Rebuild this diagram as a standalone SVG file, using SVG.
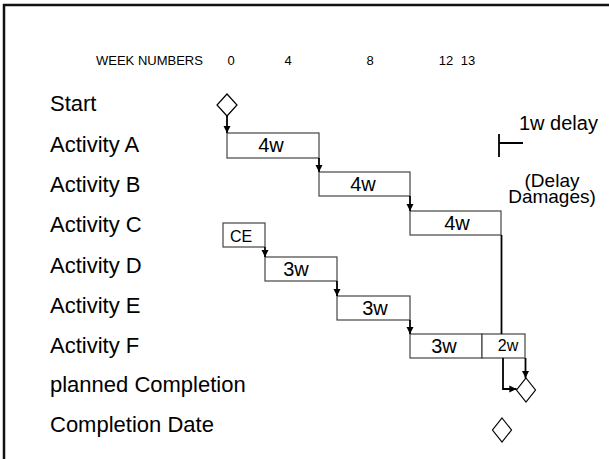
<svg xmlns="http://www.w3.org/2000/svg" width="609" height="459" viewBox="0 0 609 459">
<defs>
<marker id="ah" viewBox="0 0 10 10" refX="10" refY="5" markerWidth="4" markerHeight="4" orient="auto" markerUnits="strokeWidth">
<path d="M0,0 L10,5 L0,10 z" fill="#000"/>
</marker>
<style>
.lbl{font-family:"Liberation Sans",Arial,sans-serif;font-size:22px;fill:#000}
.wk{font-family:"Liberation Sans",Arial,sans-serif;font-size:13px;fill:#000}
.bx{fill:#fff;stroke:#444;stroke-width:1.2}
.bt{font-family:"Liberation Sans",Arial,sans-serif;font-size:20px;fill:#000;text-anchor:middle}
.dm{fill:#fff;stroke:#000;stroke-width:1.2}
.ar{fill:none;stroke:#000;stroke-width:1.8;marker-end:url(#ah)}
.ln{fill:none;stroke:#000;stroke-width:1.8}
</style>
</defs>
<rect width="609" height="459" fill="#fff"/>
<path d="M4,459 V5 H609" fill="none" stroke="#111" stroke-width="2.5"/>

<g id="header">
<text class="wk" x="96" y="65">WEEK NUMBERS</text>
<text class="wk" x="231" y="65" text-anchor="middle">0</text>
<text class="wk" x="288" y="65" text-anchor="middle">4</text>
<text class="wk" x="370" y="65" text-anchor="middle">8</text>
<text class="wk" x="446" y="65" text-anchor="middle">12</text>
<text class="wk" x="468" y="65" text-anchor="middle">13</text>
</g>

<g id="labels">
<text class="lbl" x="50" y="111">Start</text>
<text class="lbl" x="50" y="152">Activity A</text>
<text class="lbl" x="50" y="192">Activity B</text>
<text class="lbl" x="50" y="232">Activity C</text>
<text class="lbl" x="50" y="273">Activity D</text>
<text class="lbl" x="50" y="313">Activity E</text>
<text class="lbl" x="50" y="353">Activity F</text>
<text class="lbl" x="50" y="392">planned Completion</text>
<text class="lbl" x="50" y="432">Completion Date</text>
</g>

<g id="start"><path class="dm" d="M227,94 L237,105 L227,116 L217,105 z"/></g>
<g id="actA"><rect class="bx" x="227" y="133" width="92" height="25"/><text class="bt" x="271" y="152">4w</text></g>
<g id="actB"><rect class="bx" x="319" y="172" width="91" height="24"/><text class="bt" x="363" y="191">4w</text></g>
<g id="actC"><rect class="bx" x="410" y="211" width="91" height="24"/><text class="bt" x="457" y="230">4w</text></g>
<g id="ce"><rect class="bx" x="223" y="223" width="42" height="24"/><text class="bt" x="241" y="242" style="font-size:16px">CE</text></g>
<g id="actD"><rect class="bx" x="265" y="257" width="72" height="24"/><text class="bt" x="296" y="276">3w</text></g>
<g id="actE"><rect class="bx" x="337" y="296" width="73" height="24"/><text class="bt" x="375" y="315">3w</text></g>
<g id="actF"><rect class="bx" x="410" y="334" width="72" height="24"/><text class="bt" x="444" y="353">3w</text></g>
<g id="delayF"><rect class="bx" x="482" y="334" width="43" height="24"/><text class="bt" x="508" y="351" style="font-size:16px">2w</text></g>
<g id="planned"><path class="dm" d="M526,378 L535.5,390 L526,402 L516.5,390 z"/></g>
<g id="completion"><path class="dm" d="M502,418 L511.5,430 L502,442 L492.5,430 z"/></g>

<g id="delay-note">
<text class="bt" x="519" y="130" style="text-anchor:start">1w delay</text>
<path d="M499,134 V157 M499,143 H523" fill="none" stroke="#000" stroke-width="1.8"/>
<text class="bt" x="552" y="187" style="font-size:19px">(Delay</text>
<text class="bt" x="552" y="203" style="font-size:19px">Damages)</text>
</g>

<g id="connectors">
<path class="ar" d="M227,116 V133"/>
<path class="ar" d="M319,158 V172"/>
<path class="ar" d="M410,196 V211"/>
<path class="ar" d="M265,247 V257"/>
<path class="ar" d="M337,281 V296"/>
<path class="ar" d="M410,320 V334"/>
<path class="ln" d="M501.5,235 V334"/>
<path class="ar" d="M503,358 V389 H516.5"/>
<path class="ar" d="M525.5,358 V378"/>
</g>
</svg>
